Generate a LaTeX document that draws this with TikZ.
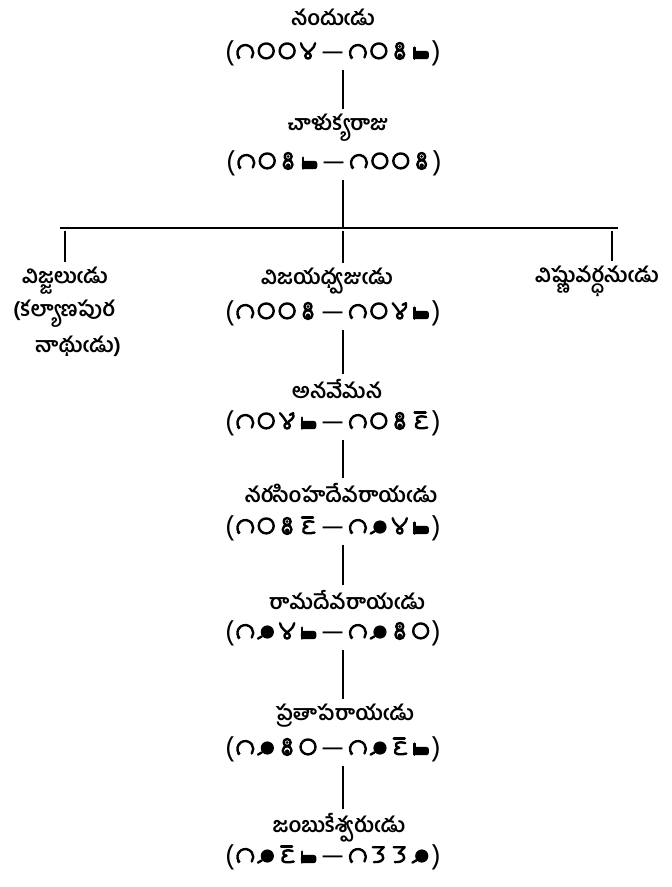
\documentclass[tikz,border=0pt]{standalone}
\usepackage{fontspec}
\newfontfamily\tel[Script=Telugu]{Hind Guntur}
% Telugu digits: no installed family draws them, so they are drawn as shapes
\expandafter\def\csname tdgshape0\endcsname{\draw (9.5,7.5) circle[radius=6.8];}
\expandafter\def\csname tdgshape1\endcsname{\draw (3.6,1.5) arc[start angle=215,end angle=-35,radius=7.2];\fill (3.6,1.5) circle[radius=1.7];}
\expandafter\def\csname tdgshape2\endcsname{\fill (10.5,6.5) circle[radius=6];\draw (5.5,2.5) -- (2,0.5);}
\expandafter\def\csname tdgshape3\endcsname{\draw (4,14.5) -- (14,14.5) -- (8.5,9) .. controls (16,9) and (15.5,0) .. (5,1);}
\expandafter\def\csname tdgshape4\endcsname{\draw (3,14.5) .. controls (4,9) and (9,7.5) .. (9.5,5.4);\draw (9.5,3) circle[radius=2.5];\draw (9.5,5.4) .. controls (10,7.5) and (15,9) .. (16,14.5);}
\expandafter\def\csname tdgshape5\endcsname{\draw (3,14.5) .. controls (8,9) and (9,6) .. (9.5,5.4);\draw (9.5,3) circle[radius=2.5];\draw (9.5,5.4) .. controls (11,8) and (17,9) .. (15,14.5) -- (12,13);}
\expandafter\def\csname tdgshape6\endcsname{\draw (9.5,4.2) circle[radius=4];\draw (9.5,11.5) circle[radius=3.2];\fill (9.5,11.5) circle[radius=1.4];\fill (9.5,3.2) circle[radius=2];}
\expandafter\def\csname tdgshape7\endcsname{\fill[rounded corners=2.5pt] (3,0) rectangle (17,7.5);\draw (3.8,0.5) -- (3.8,10.5);}
\expandafter\def\csname tdgshape9\endcsname{\draw (4,15) -- (14,15);\draw (14.5,11) .. controls (6,13.5) and (3,8) .. (9,6.8) .. controls (2,5) and (4,-1.5) .. (15.5,1.5);}
\newcommand{\tdgd}[1]{\tikz[baseline=-1pt,x=1.1pt,y=1.1pt,line width=2.4pt,line cap=round,line join=round]{\useasboundingbox (0,-1) rectangle (19,16);\csname tdgshape#1\endcsname}}
\newcommand{\tdate}[8]{(\kern1pt\tdgd{#1}\tdgd{#2}\tdgd{#3}\tdgd{#4}\kern3pt—\kern3pt\tdgd{#5}\tdgd{#6}\tdgd{#7}\tdgd{#8}\kern1pt)}
\begin{document}
\begin{tikzpicture}[x=1pt,y=-1pt,
  nm/.style={font=\tel\bfseries\fontsize{21}{25}\selectfont, inner sep=0pt, outer sep=5pt},
  dt/.style={font=\tel\fontsize{28}{32}\selectfont, inner sep=0pt, outer sep=4pt},
  conn/.style={line width=2pt},
  bar/.style={line width=2.6pt}]
\useasboundingbox (0,0) rectangle (672,887);

\node[nm] (n1) at (333,17) {నందుఁడు};
\node[dt] (d1) at (333,53) {\tdate10041067};
\node[nm] (n2) at (338,128) {చాళుక్యరాజు};
\node[dt] (d2) at (334,163) {\tdate10671006};

\coordinate (bl) at (60,228);
\coordinate (br) at (618,228);
\coordinate (ta) at (65,231);
\coordinate (tb) at (343,231);
\coordinate (tc) at (612,231);

\node[nm] (n3a) at (65,281) {విజ్జలుఁడు};
\node[nm] (n3a2) at (64,314) {(కల్యాణపుర};
\node[nm] (n3a3) at (78,346) {నాథుఁడు)};
\node[nm] (n3b) at (327,281) {విజయధ్వజుఁడు};
\node[nm] (n3c) at (597,281) {విష్ణువర్ధనుఁడు};
\node[dt] (d3) at (333,313) {\tdate10061057};

\node[nm] (n4) at (337,389) {అనవేమన};
\node[dt] (d4) at (333,423) {\tdate10571069};
\node[nm] (n5) at (341,493) {నరసింహదేవరాయఁడు};
\node[dt] (d5) at (333,528) {\tdate10691247};
\node[nm] (n6) at (347,600) {రామదేవరాయఁడు};
\node[dt] (d6) at (333,633) {\tdate12471260};
\node[nm] (n7) at (345,716) {ప్రతాపరాయఁడు};
\node[dt] (d7) at (333,749) {\tdate12601297};
\node[nm] (n8) at (339,828) {జంబుకేశ్వరుఁడు};
\node[dt] (d8) at (333,857) {\tdate12971332};

\draw[conn] (d1.south -| tb) -- (n2.north -| tb);
\draw[conn] (d2.south -| tb) -- (bl -| tb);
\draw[bar] (bl) -- (br);
\draw[conn] (ta) -- (ta |- n3a.north);
\draw[conn] (tb) -- (tb |- n3b.north);
\draw[conn] (tc) -- (tc |- n3c.north);
\draw[conn] (d3.south -| tb) -- (n4.north -| tb);
\draw[conn] (d4.south -| tb) -- (n5.north -| tb);
\draw[conn] (d5.south -| tb) -- (n6.north -| tb);
\draw[conn] (d6.south -| tb) -- (n7.north -| tb);
\draw[conn] (d7.south -| tb) -- (n8.north -| tb);
\end{tikzpicture}
\end{document}
